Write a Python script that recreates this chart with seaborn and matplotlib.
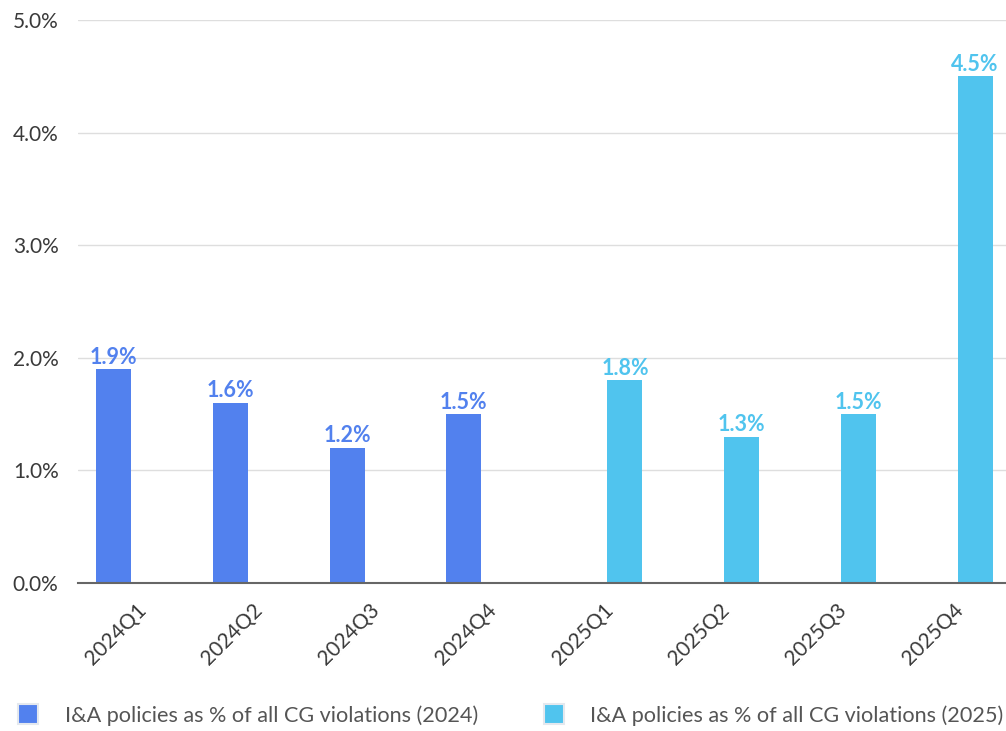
import seaborn as sns
import matplotlib.pyplot as plt
import pandas as pd
from matplotlib.lines import Line2D
from matplotlib.ticker import FuncFormatter

quarters = ['2024Q1', '2024Q2', '2024Q3', '2024Q4',
            '2025Q1', '2025Q2', '2025Q3', '2025Q4']
years = ['2024', '2024', '2024', '2024', '2025', '2025', '2025', '2025']
values = [1.9, 1.6, 1.2, 1.5, 1.8, 1.3, 1.5, 4.5]
series_names = ['I&A policies as % of all CG violations (2024)',
                'I&A policies as % of all CG violations (2025)']
colors = {'2024': '#5281ee', '2025': '#50c4ee'}

df = pd.DataFrame({'quarter': quarters, 'year': years, 'value': values})

sns.set_style('white')
plt.rcParams['font.family'] = ['Lato', 'DejaVu Sans']

fig = plt.figure(figsize=(10.06, 7.31), dpi=100)
ax = fig.add_axes([0.0775, 0.2025, 0.9225, 0.77])

# one hue level per quarter, dodge keeps 2024 bars left / 2025 bars right
sns.barplot(data=df, x='quarter', y='value', hue='year', palette=colors,
            order=quarters, hue_order=['2024', '2025'], dodge=True,
            width=0.76, gap=0.21, linewidth=0, saturation=1,
            legend=False, ax=ax)

for cont, yr in zip(ax.containers, ['2024', '2025']):
    ax.bar_label(cont, fmt='%.1f%%', padding=1, color=colors[yr],
                 fontsize=15.5, fontweight='bold')

ax.set_ylim(0, 5)
ax.set_xlim(-0.497, 7.455)
ax.set_yticks([0, 1, 2, 3, 4, 5])
ax.yaxis.set_major_formatter(FuncFormatter(lambda v, p: f'{v:.1f}%'))
ax.grid(axis='y', color='#dedede', linewidth=1)
ax.set_axisbelow(True)
for s in ['top', 'right', 'left']:
    ax.spines[s].set_visible(False)
ax.spines['bottom'].set_color('#666666')
ax.spines['bottom'].set_linewidth(1.5)
ax.set_xlabel('')
ax.set_ylabel('')
ax.tick_params(axis='y', length=0, pad=14, labelsize=15, labelcolor='#3a3a3a')
ax.tick_params(axis='x', length=0, pad=12, labelsize=15, labelcolor='#3a3a3a')
plt.setp(ax.get_xticklabels(), rotation=45, ha='right', rotation_mode='anchor')

# legend at the bottom with square markers
handles = [Line2D([], [], linestyle='', marker='s', markersize=14,
                  markerfacecolor=colors[y], markeredgecolor='#e4e8ee',
                  markeredgewidth=1.5) for y in ['2024', '2025']]
fig.legend(handles, series_names, loc='center left', bbox_to_anchor=(0.006, 0.021),
           ncol=2, frameon=False, fontsize=15.6, labelcolor='#555555',
           handletextpad=0.7, columnspacing=2.5, borderaxespad=0,
           borderpad=0)

fig.savefig('out.png', dpi=100)
